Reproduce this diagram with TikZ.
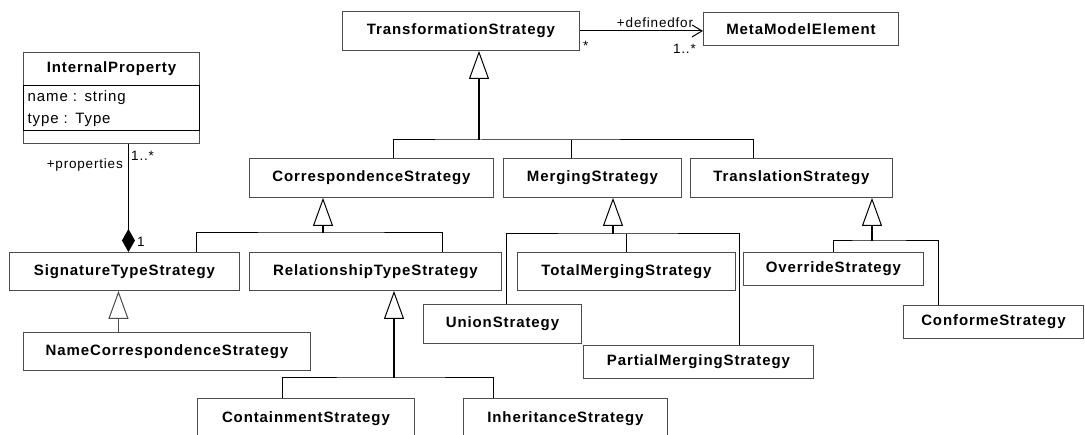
\documentclass[tikz,border=0pt]{standalone}
\usepackage{fontspec}
\setmainfont{Liberation Sans}[LetterSpace=6]
\usetikzlibrary{arrows.meta,calc}
\definecolor{boxgray}{gray}{0.3}
\tikzset{
  cls/.style={draw=boxgray, line width=0.9pt, fill=white, inner sep=0pt,
    anchor=north west, font=\fontsize{15}{18}\selectfont\bfseries},
  attrbox/.style={draw=black, line width=1.3pt, inner sep=0pt, anchor=north west,
    font=\fontsize{15}{22}\selectfont, align=left},
  lbl/.style={inner sep=0pt, font=\fontsize{13.5}{16}\selectfont},
  gen/.style={line width=1.4pt, -{Triangle[open,length=28pt,width=20pt,line width=1pt]}},
  thingen/.style={draw=boxgray, line width=1pt, -{Triangle[open,length=28pt,width=20pt,line width=1pt]}},
  tree/.style={line width=1pt},
  comp/.style={line width=1pt, -{Diamond[length=23pt,width=13pt]}},
  assoc/.style={line width=1pt, -{Straight Barb[length=10pt,width=12pt,line width=1pt]}},
}
\begin{document}
\begin{tikzpicture}[x=1pt,y=-1pt]
\clip (0,0) rectangle (1085,435);
\fill[white] (0,0) rectangle (1085,435);

% InternalProperty class with its attribute compartment
\node[cls, minimum width=176pt, minimum height=33pt] (IP) at (23,52) {InternalProperty};
\node[cls, minimum width=176pt, minimum height=13pt] (IPo) at (23,130) {};
\node[attrbox, minimum width=176pt, minimum height=45pt, text width=168pt, inner xsep=4pt] (IPa) at (23,85)
  {name : string\\type : Type};

% classes
\node[cls, minimum width=237pt, minimum height=39pt] (TS)  at (342,11)  {TransformationStrategy};
\node[cls, minimum width=195pt, minimum height=33pt] (MME) at (703,12)  {MetaModelElement};
\node[cls, minimum width=244pt, minimum height=39pt] (CS)  at (249,158) {CorrespondenceStrategy};
\node[cls, minimum width=178pt, minimum height=39pt] (MS)  at (503,158) {MergingStrategy};
\node[cls, minimum width=202pt, minimum height=39pt] (TrS) at (690,158) {TranslationStrategy};
\node[cls, minimum width=230pt, minimum height=38pt] (STS) at (9,252)   {SignatureTypeStrategy};
\node[cls, minimum width=252pt, minimum height=38pt] (RTS) at (249,252) {RelationshipTypeStrategy};
\node[cls, minimum width=218pt, minimum height=38pt] (TMS) at (517,252) {TotalMergingStrategy};
\node[cls, minimum width=180pt, minimum height=33pt] (OS)  at (743,252) {OverrideStrategy};
\node[cls, minimum width=287pt, minimum height=38pt] (NCS) at (23,332)  {NameCorrespondenceStrategy};
\node[cls, minimum width=158pt, minimum height=39pt] (US)  at (423,304) {UnionStrategy};
\node[cls, minimum width=230pt, minimum height=33pt] (PMS) at (583,345) {PartialMergingStrategy};
\node[cls, minimum width=180pt, minimum height=33pt] (CfS) at (903,305) {ConformeStrategy};
\node[cls, minimum width=217pt, minimum height=40pt] (ConS) at (197,398) {ContainmentStrategy};
\node[cls, minimum width=204pt, minimum height=40pt] (IS)  at (463,398) {InheritanceStrategy};

% generalization: TransformationStrategy
\coordinate (j1) at (479,140);
\draw[gen] (j1) -- (j1 |- TS.south);
\draw[tree] ([xshift=22pt]CS.north) |- (j1) -| ([xshift=-38pt]TrS.north);
\coordinate (dMS) at ([xshift=-21pt]MS.north);
\draw[tree] (dMS) -- (dMS |- j1);

% generalization: CorrespondenceStrategy
\coordinate (j2) at (323,233);
\draw[gen] (j2) -- (j2 |- CS.south);
\draw[tree] ([xshift=72pt]STS.north) |- (j2) -| ([xshift=67pt]RTS.north);

% generalization: MergingStrategy
\coordinate (j3) at (613,234);
\draw[gen] (j3) -- (j3 |- MS.south);
\draw[tree] ([xshift=4pt]US.north) |- (j3) -| ([xshift=41pt]PMS.north);
\draw[tree] (TMS.north) -- (TMS.north |- j3);

% generalization: TranslationStrategy
\coordinate (j4) at (872,241);
\draw[gen] (j4) -- (j4 |- TrS.south);
\draw[tree] (OS.north) |- (j4) -| ([xshift=-55pt]CfS.north);

% generalization: SignatureTypeStrategy
\coordinate (a5) at ([xshift=-6pt]STS.south);
\draw[thingen] (NCS.north -| a5) -- (a5);

% generalization: RelationshipTypeStrategy
\coordinate (j6) at (394,378);
\draw[gen] (j6) -- (j6 |- RTS.south);
\draw[tree] ([xshift=-23.5pt]ConS.north) |- (j6) -| ([xshift=-72pt]IS.north);

% composition: properties
\coordinate (a7) at ([xshift=17pt]IPo.south);
\draw[comp] (a7) -- (a7 |- STS.north);
\node[lbl, anchor=base east] (lprop) at (123,169) {+properties};
\node[lbl, anchor=base west] (lm1) at (131,161) {1..*};
\node[lbl, anchor=base west] (lone) at (137,247) {1};

% association: definedfor
\draw[assoc] (TS.east) -- (TS.east -| MME.west);
\node[lbl, anchor=base] (ldef) at (655,28) {+definedfor};
\node[lbl, anchor=base east] (lm2) at (696,54) {1..*};
\node[lbl, anchor=base west] (lm3) at (583,51) {*};
\end{tikzpicture}
\end{document}
